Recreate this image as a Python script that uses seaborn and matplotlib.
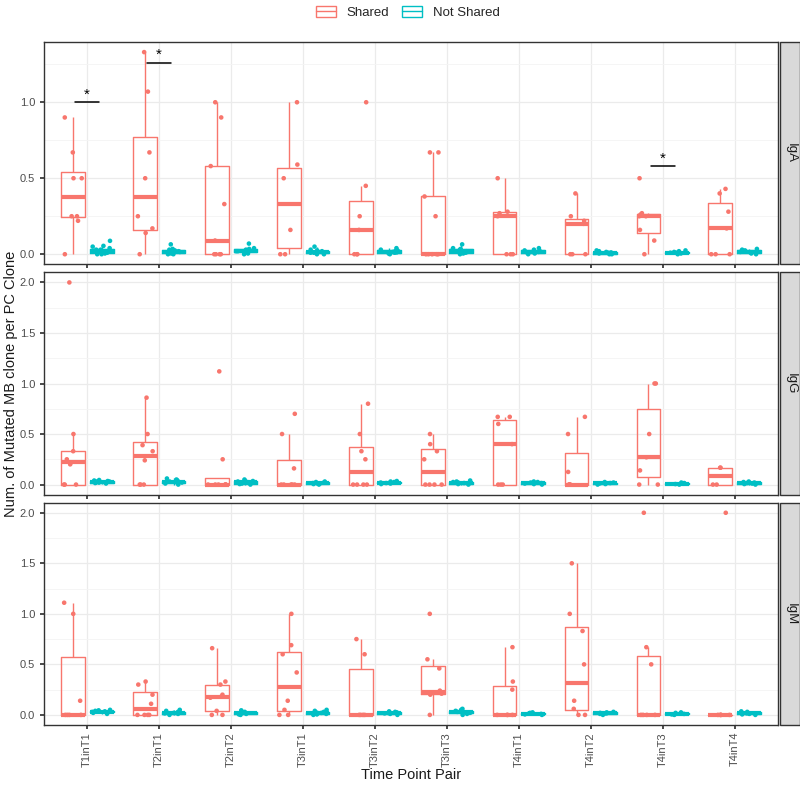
import numpy as np
import pandas as pd
import matplotlib
matplotlib.use("Agg")
import matplotlib.pyplot as plt
import seaborn as sns
from matplotlib.patches import Rectangle, Patch
from matplotlib.lines import Line2D

# ------------------------------------------------------------------
# data
# ------------------------------------------------------------------
PAIRS = ["T1inT1", "T2inT1", "T2inT2", "T3inT1", "T3inT2",
         "T3inT3", "T4inT1", "T4inT2", "T4inT3", "T4inT4"]
ISOTYPES = ["IgA", "IgG", "IgM"]
GROUPS = ["Shared", "Not Shared"]
PALETTE = {"Shared": "#F8766D", "Not Shared": "#00BFC4"}

IGA_SHARED = [
    [0, 0.22, 0.25, 0.25, 0.5, 0.5, 0.67, 0.9],
    [0, 0.14, 0.17, 0.25, 0.5, 0.67, 1.07, 1.33],
    [0, 0, 0, 0, 0.09, 0.33, 0.58, 0.9, 1.0],
    [0, 0, 0.16, 0.5, 0.59, 1.0],
    [0, 0, 0, 0.16, 0.25, 0.45, 1.0],
    [0, 0, 0, 0, 0, 0.25, 0.38, 0.67, 0.67],
    [0, 0, 0, 0.25, 0.27, 0.28, 0.5],
    [0, 0, 0, 0.2, 0.22, 0.25, 0.4],
    [0, 0.09, 0.16, 0.25, 0.25, 0.26, 0.27, 0.5],
    [0, 0, 0, 0.17, 0.28, 0.4, 0.43],
]
IGG_SHARED = [
    [0, 0, 0, 0.2, 0.22, 0.25, 0.33, 0.5, 2.0],
    [0, 0, 0, 0.24, 0.33, 0.39, 0.5, 0.86],
    [0, 0, 0, 0, 0, 0, 0.25, 1.12],
    [0, 0, 0, 0, 0, 0.16, 0.5, 0.7],
    [0, 0, 0, 0, 0.25, 0.33, 0.5, 0.8],
    [0, 0, 0, 0, 0.25, 0.33, 0.4, 0.5],
    [0, 0, 0, 0.4, 0.6, 0.67, 0.67],
    [0, 0, 0, 0, 0.125, 0.5, 0.67],
    [0, 0, 0.14, 0.27, 0.5, 1.0, 1.0],
    [0, 0, 0.167, 0.167],
]
IGM_SHARED = [
    [0, 0, 0, 0, 0.14, 1.0, 1.11],
    [0, 0, 0, 0, 0.11, 0.2, 0.3, 0.33],
    [0, 0, 0.04, 0.17, 0.18, 0.2, 0.3, 0.33, 0.66],
    [0, 0, 0.05, 0.14, 0.42, 0.6, 0.69, 1.0],
    [0, 0, 0, 0, 0.6, 0.75],
    [0, 0.2, 0.21, 0.22, 0.24, 0.46, 0.55, 1.0],
    [0, 0, 0, 0, 0.25, 0.33, 0.67],
    [0, 0, 0.06, 0.14, 0.5, 0.83, 1.0, 1.5],
    [0, 0, 0, 0, 0.5, 0.67, 2.0],
    [0, 0, 0, 0, 0, 2.0],
]

IGA_NOT_SHARED = [
    [0, 0, 0.005, 0.01, 0.015, 0.02, 0.02, 0.025, 0.03, 0.03, 0.04, 0.05, 0.055, 0.088],
    [0, 0, 0.005, 0.008, 0.01, 0.015, 0.02, 0.02, 0.025, 0.03, 0.035, 0.065],
    [0, 0.005, 0.01, 0.015, 0.02, 0.02, 0.025, 0.03, 0.035, 0.04, 0.07],
    [0, 0, 0.005, 0.01, 0.01, 0.015, 0.02, 0.025, 0.03, 0.05],
    [0, 0.005, 0.01, 0.012, 0.015, 0.02, 0.025, 0.03, 0.04],
    [0, 0.005, 0.01, 0.015, 0.02, 0.025, 0.03, 0.035, 0.04, 0.065],
    [0, 0.005, 0.01, 0.015, 0.02, 0.025, 0.03, 0.04],
    [0, 0, 0.005, 0.01, 0.012, 0.015, 0.02, 0.025],
    [0, 0.005, 0.01, 0.01, 0.015, 0.02, 0.025],
    [0, 0.005, 0.01, 0.015, 0.02, 0.025, 0.03, 0.035],
]
IGG_NOT_SHARED = [
    [0.01, 0.015, 0.02, 0.02, 0.025, 0.03, 0.03, 0.035, 0.04, 0.045],
    [0, 0.01, 0.015, 0.02, 0.025, 0.03, 0.035, 0.04, 0.05, 0.06],
    [0, 0.005, 0.01, 0.02, 0.025, 0.03, 0.035, 0.04, 0.05],
    [0, 0.005, 0.01, 0.01, 0.015, 0.02, 0.025, 0.03],
    [0.005, 0.01, 0.015, 0.02, 0.025, 0.03, 0.035],
    [0, 0.005, 0.01, 0.015, 0.02, 0.025, 0.03, 0.04],
    [0, 0.005, 0.01, 0.015, 0.02, 0.025, 0.03],
    [0, 0.005, 0.01, 0.012, 0.015, 0.02, 0.025],
    [0, 0.005, 0.008, 0.01, 0.015, 0.02],
    [0, 0.005, 0.01, 0.015, 0.02, 0.025, 0.03],
]
IGM_NOT_SHARED = [
    [0.01, 0.02, 0.025, 0.03, 0.035, 0.04, 0.045, 0.05],
    [0, 0.01, 0.015, 0.02, 0.025, 0.03, 0.04, 0.05],
    [0, 0.005, 0.01, 0.02, 0.025, 0.03, 0.045],
    [0, 0.005, 0.01, 0.015, 0.02, 0.03, 0.04, 0.05],
    [0, 0.01, 0.015, 0.02, 0.025, 0.03, 0.035],
    [0, 0.01, 0.02, 0.025, 0.03, 0.04, 0.05, 0.06],
    [0, 0.005, 0.01, 0.015, 0.02, 0.025],
    [0, 0.01, 0.015, 0.02, 0.025, 0.03],
    [0, 0.005, 0.01, 0.015, 0.02, 0.025],
    [0, 0.005, 0.01, 0.015, 0.02, 0.03, 0.035],
]

# significance marks (IgA panel only)
SIG_PAIRS = ["T1inT1", "T2inT1", "T4inT3"]
SIG_Y = [1.0, 1.26, 0.58]

SHARED = {"IgA": IGA_SHARED, "IgG": IGG_SHARED, "IgM": IGM_SHARED}
NOT_SHARED = {"IgA": IGA_NOT_SHARED, "IgG": IGG_NOT_SHARED, "IgM": IGM_NOT_SHARED}

rows = []
for iso in ISOTYPES:
    for group, src in (("Shared", SHARED[iso]), ("Not Shared", NOT_SHARED[iso])):
        for pair, vals in zip(PAIRS, src):
            for v in vals:
                rows.append((iso, pair, group, v))
df = pd.DataFrame(rows, columns=["isotype", "pair", "group", "value"])

# ------------------------------------------------------------------
# style
# ------------------------------------------------------------------
sns.set_theme(style="whitegrid")
plt.rcParams.update({
    "font.family": ["Liberation Sans", "DejaVu Sans"],
    "axes.edgecolor": "#333333",
    "axes.linewidth": 1.0,
    "xtick.color": "#333333",
    "ytick.color": "#333333",
    "xtick.labelcolor": "#4D4D4D",
    "ytick.labelcolor": "#4D4D4D",
    "xtick.labelsize": 8,
    "ytick.labelsize": 8,
    "xtick.major.size": 3,
    "ytick.major.size": 3,
    "xtick.bottom": True,
    "ytick.left": True,
})
np.random.seed(7)

fig = plt.figure(figsize=(8, 7.86), dpi=100)
axes = fig.subplots(3, 1, sharex=True)
fig.subplots_adjust(left=0.055, right=0.9725, top=1 - 42 / 786,
                    bottom=1 - 725 / 786, hspace=0.036)

for ax, iso in zip(axes, ISOTYPES):
    sub = df[df["isotype"] == iso]
    sns.boxplot(data=sub, x="pair", y="value", hue="group", order=PAIRS,
                hue_order=GROUPS, palette=PALETTE, fill=False, width=0.8,
                gap=0.17, showfliers=False, showcaps=False, linewidth=1.0,
                medianprops={"linewidth": 3}, legend=False, ax=ax)
    sns.stripplot(data=sub, x="pair", y="value", hue="group", order=PAIRS,
                  hue_order=GROUPS, palette=PALETTE, dodge=True, jitter=0.26,
                  size=3.3, linewidth=0, legend=False, ax=ax)

    vmax = sub["value"].max()
    ax.set_ylim(-0.05 * vmax, vmax * 1.05)
    ax.set_xlim(-0.6, len(PAIRS) - 0.4)
    ax.set_yticks(np.arange(0, vmax + 0.01, 0.5))
    ax.set_yticks(np.arange(0.25, vmax, 0.5), minor=True)
    ax.yaxis.set_major_formatter(matplotlib.ticker.FormatStrFormatter("%.1f"))
    ax.grid(True, which="major", color="#EBEBEB", lw=0.9)
    ax.grid(True, which="minor", axis="y", color="#F4F4F4", lw=0.6)
    ax.set_axisbelow(True)
    ax.set_xlabel("")
    ax.set_ylabel("")
    for s in ax.spines.values():
        s.set_color("#333333")
        s.set_linewidth(1.0)
    ax.tick_params(axis="y", which="minor", length=0)

    # facet strip on the right
    ax.add_patch(Rectangle((1.003, 0), 0.0275, 1, transform=ax.transAxes,
                           facecolor="#D9D9D9", edgecolor="#333333", lw=1.0,
                           clip_on=False))
    ax.text(1.003 + 0.01375, 0.5, iso, transform=ax.transAxes, rotation=-90,
            ha="center", va="center", fontsize=9.5, color="#1A1A1A")

# significance bars
ax0 = axes[0]
for pair, y in zip(SIG_PAIRS, SIG_Y):
    i = PAIRS.index(pair)
    ax0.plot([i - 0.17, i + 0.17], [y, y], color="black", lw=1.1)
    ax0.text(i, y + 0.005, "*", ha="center", va="bottom", fontsize=11,
             color="black")

axes[-1].tick_params(axis="x", labelrotation=90, pad=2)
axes[-1].set_xlabel("Time Point Pair", fontsize=10.5, color="#1A1A1A",
                    labelpad=1)
fig.text(0.014, (1 - 42 / 786 + 1 - 725 / 786) / 2,
         "Num. of Mutated MB clone per PC Clone", rotation=90,
         ha="center", va="center", fontsize=10.5, color="#1A1A1A")

handles = [(Patch(facecolor="none", edgecolor=PALETTE[g], lw=1),
            Line2D([], [], color=PALETTE[g], lw=1)) for g in GROUPS]
fig.legend(handles, GROUPS, loc="upper center", ncol=2, frameon=False,
           bbox_to_anchor=(0.51, 1.008), handlelength=1.5, handleheight=1.0,
           columnspacing=1.0, fontsize=9.5)

fig.savefig("out.png", dpi=100, facecolor="white")
